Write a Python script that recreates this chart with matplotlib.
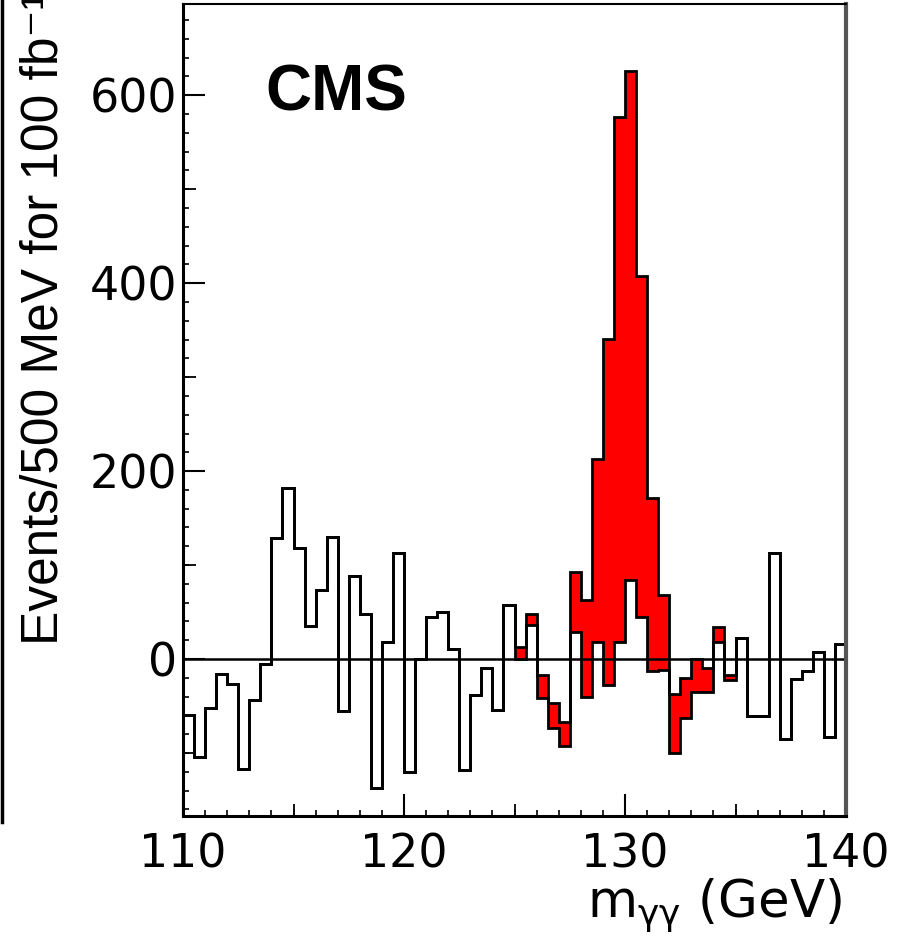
import numpy as np
import matplotlib.pyplot as plt
from matplotlib.lines import Line2D
from matplotlib.ticker import MultipleLocator

plt.rcParams['font.family'] = ['DejaVu Sans']

# binning in m_gg (GeV), 500 MeV per bin
m_lo, m_hi, bin_w = 110.0, 140.0, 0.5

# events minus fitted background, without the signal (black histogram)
diff_bkg = [-60, -104, -52, -16, -27, -117, -44, -5, 129, 182,
            118, 35, 73, 130, -55, 88, 48, -137, 18, 113,
            -120, 0, 45, 50, 11, -118, -38, -10, -54, 57,
            0, 36, -17, -47, -67, 29, -40, 18, -28, 18,
            84, 45, -13, -12, -37, -20, 0, -10, 18, -17,
            22, -61, -61, 113, -85, -21, -13, 8, -83, 16]

# same distribution with the Higgs signal added (red band)
diff_sig = [-60, -104, -52, -16, -27, -117, -44, -5, 129, 182,
            118, 35, 73, 130, -55, 88, 48, -137, 18, 113,
            -120, 0, 45, 50, 11, -118, -38, -10, -54, 57,
            13, 48, -41, -73, -93, 93, 63, 213, 341, 577,
            626, 408, 171, 68, -100, -63, -35, -35, 34, -22,
            22, -61, -61, 113, -85, -21, -13, 8, -83, 16]

x_major = [110, 120, 130, 140]
x_mid = [115, 125, 135]
y_major = [0, 200, 400, 600]
y_mid = [-100, 100, 300, 500]

edges = np.arange(m_lo, m_hi + bin_w / 2, bin_w)

fig = plt.figure(figsize=(8.99, 9.36), dpi=100)
ax = fig.add_axes([0.2036, 0.1282, 0.7375, 0.8675])

# red band between the two histograms
ax.stairs(diff_sig, edges, baseline=diff_bkg, fill=True, color='#ff0000', lw=0)
ax.axhline(0, color='black', lw=1.8)
ax.stairs(diff_sig, edges, baseline=None, color='black', lw=2.0)
ax.stairs(diff_bkg, edges, baseline=None, color='black', lw=2.0)

ax.set_xlim(m_lo, m_hi)
ax.set_ylim(-167, 697)

ax.set_xticks(x_major)
ax.set_yticks(y_major)
ax.xaxis.set_minor_locator(MultipleLocator(1))
ax.yaxis.set_minor_locator(MultipleLocator(20))
ax.tick_params(which='both', direction='in', top=False, right=False)
ax.tick_params(which='major', length=16, width=1.5, labelsize=33)
ax.tick_params(which='minor', length=4.5, width=1.2)
ax.tick_params(axis='x', which='major', pad=12)
ax.tick_params(axis='y', which='major', pad=4)

# medium-length ticks at the half divisions
sec_x = ax.secondary_xaxis('bottom')
sec_x.set_xticks(x_mid)
sec_x.tick_params(direction='in', length=9, width=1.3, labelbottom=False)
sec_x.spines['bottom'].set_visible(False)
sec_y = ax.secondary_yaxis('left')
sec_y.set_yticks(y_mid)
sec_y.tick_params(direction='in', length=9, width=1.3, labelleft=False)
sec_y.spines['left'].set_visible(False)

for side in ['left', 'bottom']:
    ax.spines[side].set_linewidth(2.2)
ax.spines['top'].set_linewidth(1.5)
ax.spines['right'].set_linewidth(3)
ax.spines['right'].set_color('#555555')

ax.text(0.124, 0.869, 'CMS', transform=ax.transAxes, fontsize=46,
        fontweight='bold', family=['Liberation Sans', 'DejaVu Sans'],
        ha='left', va='baseline')

fig.text(842 / 899, 19 / 936, r'm$_{\mathregular{\gamma\gamma}}$ (GeV)',
         fontsize=37, ha='right', va='baseline')
fig.text(44 / 899, 291 / 936, 'Events/500 MeV for 100 fb⁻¹',
         family=['Liberation Sans', 'DejaVu Sans'], fontsize=37,
         rotation=90, ha='center', va='bottom')

# edge of the neighbouring panel
fig.add_artist(Line2D([0.0025, 0.0025], [114 / 936, 1.0], color='black',
                      lw=2.5, transform=fig.transFigure))

fig.savefig('out.png', dpi=100)
